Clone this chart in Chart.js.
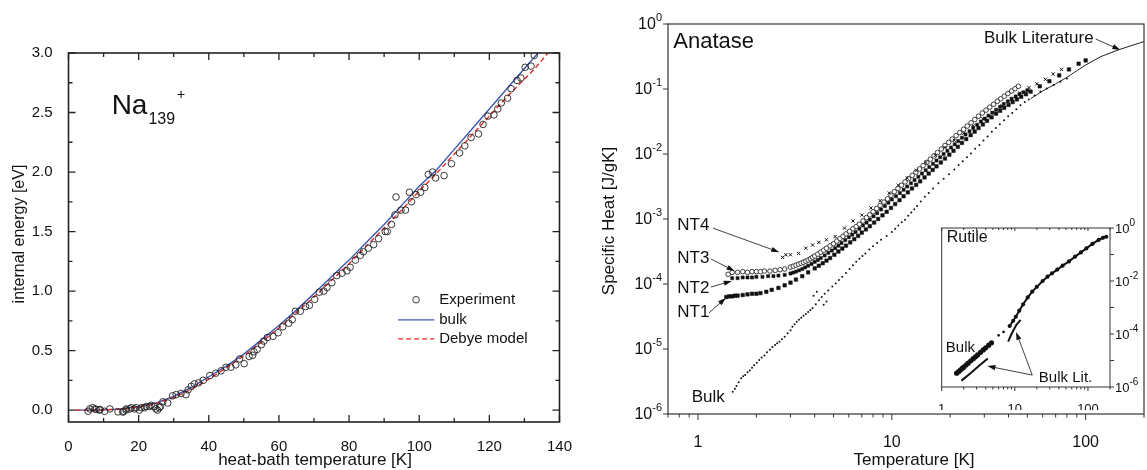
<!DOCTYPE html>
<html>
<head>
<meta charset="utf-8">
<title>Na139+ internal energy / TiO2 specific heat</title>
<script src="https://cdn.jsdelivr.net/npm/chart.js@4.4.1/dist/chart.umd.min.js"></script>
<style>
  html, body { margin: 0; padding: 0; width: 1147px; height: 470px; overflow: hidden; background: #fff; }
  canvas { position: absolute; }
  #left { left: 0; top: 0; }
  #main { left: 580px; top: 0; }
  #inset { left: 930px; top: 210px; }
</style>
</head>
<body>
<canvas id="left" width="580" height="470"></canvas>
<canvas id="main" width="575" height="470"></canvas>
<canvas id="inset" width="217" height="200"></canvas>
<script>
// ---------- left panel: Na139+ internal energy ----------
var expT = [5.6,6.1,6.9,7.5,7.9,8.8,9.0,10.3,11.8,14.1,
            15.5,15.6,16.4,16.5,17.5,17.9,18.8,19.3,20.2,20.8,
            21.6,22.2,23.1,23.6,24.5,24.9,25.4,25.9,26.2,26.9,
            28.3,29.7,30.7,32.1,33.5,34.1,35.0,35.9,37.1,38.4,
            40.3,42.0,43.5,44.9,46.3,47.7,48.8,50.1,51.5,52.5,
            52.9,53.8,55.0,55.7,56.7,58.3,59.8,61.1,62.8,63.8,
            64.7,66.1,67.6,68.7,70.2,71.5,72.8,73.7,75.1,76.5,
            78.0,79.4,80.3,81.8,83.2,84.1,85.5,87.0,88.4,90.3,
            90.9,92.1,93.1,93.4,94.8,96.1,97.2,97.8,99.1,100.4,
            101.6,102.6,103.8,104.7,107.1,109.2,111.5,113.0,114.8,116.9,
            118.2,119.6,121.3,122.4,123.4,125.2,126.2,127.9,129.0,130.2,
            131.9,132.8]
var expE = [-0.01,0.01,0.02,0.01,0.006,0.0,0.005,-0.01,0.01,-0.015,
            -0.017,-0.01,0.0,0.01,0.01,0.02,0.01,0.02,0.0,0.02,
            0.02,0.03,0.03,0.04,0.03,0.01,0.0,0.02,0.03,0.07,
            0.06,0.12,0.13,0.14,0.13,0.17,0.20,0.22,0.23,0.25,
            0.29,0.31,0.33,0.36,0.36,0.38,0.43,0.39,0.45,0.46,
            0.49,0.51,0.55,0.58,0.61,0.62,0.65,0.70,0.73,0.76,
            0.83,0.83,0.87,0.88,0.93,0.99,1.00,1.03,1.07,1.13,
            1.15,1.17,1.20,1.26,1.30,1.33,1.36,1.39,1.44,1.50,
            1.50,1.56,1.64,1.79,1.68,1.68,1.83,1.75,1.81,1.83,
            1.87,1.98,2.00,1.95,1.97,2.07,2.16,2.22,2.29,2.32,
            2.40,2.47,2.48,2.53,2.58,2.62,2.70,2.77,2.79,2.88,
            2.89,2.98]
var bulkT = [2,5,10,15,20,25,30,35,40,45,50,55,60,65,70,75,80,85,90,95,100,105,110,115,120,125,130,134.5]
var bulkE = [0,0,0.002,0.01,0.03,0.06,0.115,0.19,0.28,0.37,0.47,0.59,0.71,0.84,0.98,1.12,1.26,1.41,1.56,1.72,1.88,2.02,2.19,2.36,2.53,2.70,2.87,3.02]
var debyeT = [2,5,10,15,20,25,30,35,40,45,50,55,60,65,70,75,80,85,90,95,100,105,110,115,120,125,130,133,135,137]
var debyeE = [0,0,0.001,0.008,0.025,0.055,0.105,0.175,0.26,0.355,0.455,0.57,0.69,0.82,0.95,1.09,1.23,1.38,1.53,1.68,1.84,1.99,2.15,2.31,2.47,2.63,2.78,2.87,2.94,3.01]
var xTicksL = [0,10,20,30,40,50,60,70,80,90,100,110,120,130,140]
var yTicksL = [0,0.25,0.5,0.75,1,1.25,1.5,1.75,2,2.25,2.5,2.75,3]

// ---------- right panel: anatase specific heat ----------
var nt3T = [1.43,1.5,1.6,1.7,1.8,1.9,2.0,2.1,2.2,2.35,2.5,2.65,2.8,
            3.0,3.1,3.2,3.3,3.4,3.5,3.6,3.7,3.8,3.9,4.0,
            4.15,4.3,4.45,4.6,4.8,5.0,5.2,5.4,5.6,5.8,
            6.05,6.3,6.55,6.8,7.1,7.4,7.7,8.0,8.35,8.7,
            9.1,9.5,9.9,10.3,10.75,11.2,11.7,12.2,12.75,13.3,
            13.9,14.5,15.15,15.8,16.5,17.2,18,18.8,19.65,20.5,
            21.45,22.4,23.45,24.5,25.65,26.8,28,29.3,30.6,32,
            33.5,35,36.5,38,39.7,41.5,43.2,45]
var nt3C = [1.41e-4,1.51e-4,1.51e-4,1.55e-4,1.51e-4,1.55e-4,1.55e-4,1.55e-4,1.58e-4,1.58e-4,1.62e-4,1.66e-4,1.70e-4,
            1.82e-4,1.88e-4,1.95e-4,2.02e-4,2.09e-4,2.16e-4,2.24e-4,2.34e-4,2.45e-4,2.57e-4,2.69e-4,
            2.88e-4,3.09e-4,3.31e-4,3.55e-4,3.85e-4,4.17e-4,4.57e-4,5.01e-4,5.43e-4,5.89e-4,
            6.46e-4,7.08e-4,7.67e-4,8.32e-4,9.33e-4,1.05e-3,1.16e-3,1.29e-3,1.45e-3,1.62e-3,
            1.82e-3,2.04e-3,2.32e-3,2.63e-3,2.95e-3,3.31e-3,3.72e-3,4.17e-3,4.68e-3,5.25e-3,
            5.89e-3,6.61e-3,7.41e-3,8.32e-3,9.33e-3,1.05e-2,1.19e-2,1.35e-2,1.51e-2,1.70e-2,
            1.91e-2,2.14e-2,2.40e-2,2.69e-2,3.02e-2,3.39e-2,3.80e-2,4.27e-2,4.73e-2,5.25e-2,
            5.82e-2,6.46e-2,7.08e-2,7.76e-2,8.51e-2,9.33e-2,0.101,0.110]
var nt2T = [1.5,1.6,1.7,1.8,1.9,2.0,2.15,2.3,2.45,2.6,2.8,
            3.0,3.1,3.2,3.32,3.45,3.57,3.7,3.85,4.0,
            4.15,4.3,4.5,4.7,4.9,5.1,5.3,5.5,5.75,6.0,
            6.25,6.5,6.8,7.1,7.4,7.7,8.05,8.4,8.8,9.2,
            9.6,10,10.5,11,11.5,12,12.55,13.1,13.7,14.3,
            14.95,15.6,16.3,17,17.75,18.5,19.35,20.2,21.1,22,
            23,24,25.15,26.3,27.55,28.8,30.15,31.5,33,34.5,
            36.15,37.8,39.65,41.5,43.5,45.5,47.75,50]
var nt2C = [1.23e-4,1.23e-4,1.26e-4,1.26e-4,1.26e-4,1.29e-4,1.29e-4,1.32e-4,1.32e-4,1.35e-4,1.38e-4,
            1.45e-4,1.50e-4,1.55e-4,1.62e-4,1.70e-4,1.80e-4,1.91e-4,2.04e-4,2.19e-4,
            2.34e-4,2.51e-4,2.75e-4,3.02e-4,3.27e-4,3.55e-4,3.89e-4,4.27e-4,4.73e-4,5.25e-4,
            5.75e-4,6.31e-4,7.08e-4,7.94e-4,8.81e-4,9.77e-4,1.10e-3,1.23e-3,1.40e-3,1.58e-3,
            1.78e-3,2.00e-3,2.24e-3,2.51e-3,2.82e-3,3.16e-3,3.55e-3,3.98e-3,4.47e-3,5.01e-3,
            5.62e-3,6.31e-3,7.08e-3,7.94e-3,8.91e-3,1.00e-2,1.12e-2,1.26e-2,1.41e-2,1.58e-2,
            1.78e-2,2.00e-2,2.24e-2,2.51e-2,2.82e-2,3.16e-2,3.51e-2,3.89e-2,4.32e-2,4.79e-2,
            5.31e-2,5.89e-2,6.46e-2,7.08e-2,7.67e-2,8.32e-2,8.91e-2,9.55e-2]
var nt1T = [1.40,1.45,1.5,1.55,1.6,1.7,1.8,1.9,2.0,2.1,
            2.25,2.4,2.6,2.8,3.0,3.2,3.45,3.7,4.0,
            4.2,4.4,4.6,4.8,5.05,5.3,5.55,5.8,6.1,6.4,
            6.7,7.0,7.35,7.7,8.1,8.5,8.95,9.4,9.9,10.4,
            10.95,11.5,12.1,12.7,13.35,14,14.75,15.5,16.25,17,
            17.9,18.8,19.8,20.8,21.9,23,24.2,25.5,26.75,28,
            29.5,31,32.7,34.5,36.2,38,40,42,44.2,46.5,
            49.2,52,58,65,73,82,92,100]
var nt1C = [6.31e-5,6.46e-5,6.46e-5,6.61e-5,6.61e-5,6.76e-5,6.92e-5,7.08e-5,7.08e-5,7.24e-5,
            7.59e-5,8.13e-5,8.71e-5,9.55e-5,1.05e-4,1.17e-4,1.32e-4,1.51e-4,1.74e-4,
            1.91e-4,2.09e-4,2.29e-4,2.51e-4,2.82e-4,3.16e-4,3.51e-4,3.89e-4,4.37e-4,4.90e-4,
            5.50e-4,6.17e-4,6.92e-4,7.76e-4,8.81e-4,1.00e-3,1.14e-3,1.29e-3,1.48e-3,1.70e-3,
            1.95e-3,2.24e-3,2.57e-3,2.95e-3,3.35e-3,3.80e-3,4.37e-3,5.01e-3,5.69e-3,6.46e-3,
            7.41e-3,8.51e-3,9.77e-3,1.12e-2,1.29e-2,1.48e-2,1.70e-2,1.95e-2,2.21e-2,2.51e-2,
            2.85e-2,3.24e-2,3.67e-2,4.17e-2,4.62e-2,5.13e-2,5.69e-2,6.31e-2,6.92e-2,7.59e-2,
            8.32e-2,9.12e-2,0.110,0.132,0.162,0.200,0.245,0.275]
var nt4T = [2.73,2.84,3.0,3.3,3.6,3.9,4.2,4.6,5.1,5.7,6.3,7.0,7.8,8.7,9.7,10.8,12,13.4,15,16.8,18.8,21,23.5,26.3,29.5,33,37,41.5,46,51,56,62,68,75]
var nt4C = [2.57e-4,2.82e-4,2.82e-4,2.95e-4,3.55e-4,3.98e-4,4.37e-4,4.79e-4,5.37e-4,7.24e-4,
            9.33e-4,1.15e-3,1.48e-3,1.91e-3,2.51e-3,3.31e-3,4.27e-3,5.62e-3,7.41e-3,9.55e-3,
            1.26e-2,1.62e-2,2.09e-2,2.69e-2,3.47e-2,4.37e-2,5.50e-2,6.92e-2,8.71e-2,0.105,
            0.120,0.141,0.170,0.200]
var anaBulkT = [1.51,1.55,1.58,1.62,1.67,1.71,1.75,1.80,1.85,1.90,
                1.95,2.01,2.07,2.13,2.2,2.27,2.35,2.42,2.5,2.56,
                2.63,2.71,2.8,2.9,3.0,3.07,3.15,3.23,3.32,3.41,
                3.5,3.6,3.7,3.8,3.9,4.05,4.21,4.35,4.5,4.7,
                4.93,5.13,5.33,5.55,5.8,6.05,6.3,6.55,6.8,7.05,
                7.3,7.65,8.0,8.4,8.8,9.4,10,10.4,10.8,11.25,
                11.7,12.15,12.6,13.05,13.5,14.1,14.8,15.5,16.3,17.4,
                18.5,19.7,21,22.1,23.2,24.4,25.6,26.9,28.3,29.7,
                31.2,32.8,34.4,36.1,37.9,39.8,41.8,43.9,46.1,48.5,
                50.9,54.5,58.4,63,68.4,74,80,
                3.95,4.1,4.45,4.6]
var anaBulkC = [2.19e-6,2.45e-6,2.69e-6,3.09e-6,3.55e-6,3.80e-6,3.98e-6,4.37e-6,4.68e-6,5.13e-6,
                5.62e-6,6.17e-6,6.76e-6,7.41e-6,7.94e-6,8.91e-6,9.77e-6,1.07e-5,1.15e-5,1.23e-5,
                1.29e-5,1.41e-5,1.55e-5,1.74e-5,1.95e-5,2.19e-5,2.40e-5,2.63e-5,2.82e-5,3.02e-5,
                3.24e-5,3.47e-5,3.72e-5,3.98e-5,4.27e-5,4.90e-5,5.62e-5,6.31e-5,7.08e-5,7.94e-5,
                9.12e-5,1.02e-4,1.15e-4,1.29e-4,1.48e-4,1.70e-4,1.95e-4,2.19e-4,2.45e-4,2.69e-4,
                2.95e-4,3.39e-4,3.80e-4,4.27e-4,4.79e-4,5.50e-4,6.31e-4,7.08e-4,7.94e-4,8.91e-4,
                9.77e-4,1.12e-3,1.26e-3,1.41e-3,1.58e-3,1.86e-3,2.19e-3,2.51e-3,2.95e-3,3.55e-3,
                4.17e-3,4.90e-3,5.75e-3,6.76e-3,7.76e-3,8.91e-3,1.02e-2,1.20e-2,1.38e-2,1.62e-2,
                1.86e-2,2.19e-2,2.51e-2,2.88e-2,3.31e-2,3.80e-2,4.27e-2,4.90e-2,5.62e-2,6.31e-2,
                6.92e-2,7.94e-2,9.12e-2,0.102,0.115,0.129,0.145,
                6.61e-5,7.59e-5,4.79e-5,5.37e-5]
var anaLitT = [52,60,70,80,90,100,120,150,200]
var anaLitC = [7.08e-2,9.33e-2,0.120,0.151,0.191,0.234,0.316,0.407,0.537]
var xTicksM = [0.7,0.8,0.9,1,2,3,4,5,6,7,8,9,10,20,30,40,50,60,70,80,90,100,200]
var decades = [1e-6,1e-5,1e-4,1e-3,1e-2,1e-1,1]
var decadeExp = ['-6','-5','-4','-3','-2','-1','0']

// ---------- inset: rutile ----------
var rutLowT = [1.6,1.7,1.8,1.9,2.0,2.15,2.3,2.5,2.7,2.9,3.1,3.4,3.7,4.0,4.4,4.8]
var rutLowC = [3.31e-6,3.80e-6,4.37e-6,5.01e-6,5.62e-6,6.76e-6,7.94e-6,9.77e-6,1.17e-5,1.38e-5,1.62e-5,2.04e-5,2.51e-5,3.02e-5,3.80e-5,4.68e-5]
var rutHighT = [8.5,9.5,10.3,11.5,13,15,17.3,20,24,28,32.2,38,45,55,66.7,80,95,115,140,160,178]
var rutHighC = [2.00e-4,3.16e-4,4.47e-4,7.59e-4,1.32e-3,2.40e-3,3.98e-3,6.03e-3,1.00e-2,1.45e-2,1.95e-2,2.69e-2,3.80e-2,5.50e-2,8.32e-2,0.120,0.170,0.251,0.355,0.427,0.468]
var rutStrayT = [6.0,7.0]
var rutStrayC = [8.91e-5,1.20e-4]
var rutLit1T = [1.86,2.5,3.3,4.27]
var rutLit1C = [1.74e-6,3.39e-6,6.61e-6,1.20e-5]
var rutLit2T = [8.1,9.0,10.5,12.0]
var rutLit2C = [5.13e-5,1.00e-4,2.24e-4,3.39e-4]
var xTicksI = [1,2,3,4,5,6,7,8,9,10,20,30,40,50,60,70,80,90,100,200]

// annotations (placed in data units)
var mainLabels = [
  {text: 'Anatase', x: 0.745, y: 0.528, size: 22, align: 'left'},
  {text: 'Bulk Literature', x: 109.9, y: 0.61, size: 17, align: 'right'},
  {text: 'NT4', x: 0.781, y: 8.09e-4, size: 17, align: 'left'},
  {text: 'NT3', x: 0.781, y: 2.51e-4, size: 17, align: 'left'},
  {text: 'NT2', x: 0.781, y: 8.71e-5, size: 17, align: 'left'},
  {text: 'NT1', x: 0.781, y: 3.72e-5, size: 17, align: 'left'},
  {text: 'Bulk', x: 1.375, y: 1.82e-6, size: 17, align: 'right'}
]
var mainArrows = [
  {from: [112.5, 0.589], to: [151, 0.398]},
  {from: [1.193, 7.24e-4], to: [2.625, 3.09e-4]},
  {from: [1.165, 2.43e-4], to: [1.546, 1.58e-4]},
  {from: [1.165, 8.99e-5], to: [1.493, 1.11e-4]},
  {from: [1.138, 3.58e-5], to: [1.391, 6.10e-5]}
]
var insetLabels = [
  {text: 'Rutile', x: 1.17, y: 0.42, size: 16, align: 'left'},
  {text: 'Bulk', x: 1.14, y: 2.95e-5, size: 15, align: 'left'},
  {text: 'Bulk Lit.', x: 21.3, y: 2.19e-6, size: 15, align: 'left'}
]
var insetArrows = [
  {from: [17.3, 2.82e-6], to: [4.22, 6.17e-6]},
  {from: [17.3, 2.82e-6], to: [10.4, 1.20e-4]}
]

var FONT = '"Liberation Sans", Arial, Helvetica, sans-serif'
Chart.defaults.font.family = FONT
Chart.defaults.color = '#111'

function pts(xs, ys) { return xs.map(function (x, i) { return {x: x, y: ys[i]} }) }
function isMajorDecade(v) { return v === 1 || v === 10 || v === 100 }

// tick marks; dir = 1 points into the plot, -1 points out
function tickMarks(ctx, chart, axis, edge, values, lenOf, dir) {
  var a = chart.chartArea, s = chart.scales[axis]
  ctx.beginPath()
  values.forEach(function (v) {
    var len = lenOf(v)
    if (!len) return
    var p = s.getPixelForValue(v)
    if (edge === 'bottom') { ctx.moveTo(p, a.bottom); ctx.lineTo(p, a.bottom - dir * len) }
    if (edge === 'top') { ctx.moveTo(p, a.top); ctx.lineTo(p, a.top + dir * len) }
    if (edge === 'left') { ctx.moveTo(a.left, p); ctx.lineTo(a.left + dir * len, p) }
    if (edge === 'right') { ctx.moveTo(a.right, p); ctx.lineTo(a.right - dir * len, p) }
  })
  ctx.stroke()
}

function arrow(ctx, x1, y1, x2, y2) {
  var ang = Math.atan2(y2 - y1, x2 - x1), L = 8, W = 2.6
  ctx.beginPath(); ctx.moveTo(x1, y1); ctx.lineTo(x2 - Math.cos(ang) * L * 0.7, y2 - Math.sin(ang) * L * 0.7); ctx.stroke()
  ctx.beginPath(); ctx.moveTo(x2, y2)
  ctx.lineTo(x2 - L * Math.cos(ang) + W * Math.sin(ang), y2 - L * Math.sin(ang) - W * Math.cos(ang))
  ctx.lineTo(x2 - L * Math.cos(ang) - W * Math.sin(ang), y2 - L * Math.sin(ang) + W * Math.cos(ang))
  ctx.closePath(); ctx.fill()
}

// "10" with a raised exponent
function powLabel(ctx, x, y, exp, align, big, small) {
  ctx.font = big + 'px ' + FONT
  var wb = ctx.measureText('10').width
  ctx.font = small + 'px ' + FONT
  var we = ctx.measureText(exp).width
  var x0 = align === 'right' ? x - wb - we : x
  ctx.textAlign = 'left'; ctx.textBaseline = 'middle'
  ctx.font = big + 'px ' + FONT
  ctx.fillText('10', x0, y + 1)
  ctx.font = small + 'px ' + FONT
  ctx.fillText(exp, x0 + wb, y - big * 0.4)
}

function drawNotes(ctx, chart, labels, arrows) {
  var sx = chart.scales.x, sy = chart.scales.y
  ctx.fillStyle = '#111'; ctx.strokeStyle = '#111'; ctx.lineWidth = 0.8
  labels.forEach(function (l) {
    ctx.font = l.size + 'px ' + FONT
    ctx.textAlign = l.align; ctx.textBaseline = 'middle'
    ctx.fillText(l.text, sx.getPixelForValue(l.x), sy.getPixelForValue(l.y))
  })
  arrows.forEach(function (r) {
    arrow(ctx, sx.getPixelForValue(r.from[0]), sy.getPixelForValue(r.from[1]),
          sx.getPixelForValue(r.to[0]), sy.getPixelForValue(r.to[1]))
  })
}

// ---------- left chart ----------
var leftDeco = {
  id: 'leftDeco',
  afterDraw: function (chart) {
    var ctx = chart.ctx, a = chart.chartArea, sx = chart.scales.x, sy = chart.scales.y
    ctx.save()
    ctx.strokeStyle = '#222'; ctx.lineWidth = 1.6
    ctx.strokeRect(a.left, a.top, a.right - a.left, a.bottom - a.top)
    ctx.lineWidth = 1.3
    var xl = function (v) { return v % 20 === 0 ? 7 : 4 }
    var yl = function (v) { return (v * 2) % 1 === 0 ? 7 : 4 }
    tickMarks(ctx, chart, 'x', 'bottom', xTicksL, xl, 1)
    tickMarks(ctx, chart, 'x', 'top', xTicksL, xl, 1)
    tickMarks(ctx, chart, 'y', 'left', yTicksL, yl, 1)
    tickMarks(ctx, chart, 'y', 'right', yTicksL, yl, 1)

    // legend
    var lx0 = sx.getPixelForValue(94.0), lx1 = sx.getPixelForValue(104.3)
    var tx = sx.getPixelForValue(105.7)
    var r1 = sy.getPixelForValue(0.927), r2 = sy.getPixelForValue(0.758), r3 = sy.getPixelForValue(0.598)
    ctx.strokeStyle = '#222'; ctx.lineWidth = 0.9
    ctx.beginPath(); ctx.arc(sx.getPixelForValue(99.1), r1, 3.3, 0, Math.PI * 2); ctx.stroke()
    ctx.strokeStyle = 'rgb(60,88,176)'; ctx.lineWidth = 1.4
    ctx.beginPath(); ctx.moveTo(lx0, r2); ctx.lineTo(lx1, r2); ctx.stroke()
    ctx.strokeStyle = 'rgb(232,40,36)'; ctx.setLineDash([5, 3])
    ctx.beginPath(); ctx.moveTo(lx0, r3); ctx.lineTo(lx1, r3); ctx.stroke()
    ctx.setLineDash([])
    ctx.fillStyle = '#111'; ctx.font = '15px ' + FONT; ctx.textAlign = 'left'; ctx.textBaseline = 'middle'
    ctx.fillText('Experiment', tx, r1)
    ctx.fillText('bulk', tx, r2)
    ctx.fillText('Debye model', tx, r3)

    // Na139+
    var nx = sx.getPixelForValue(12.3), ny = sy.getPixelForValue(2.485)
    ctx.textBaseline = 'alphabetic'
    ctx.font = '28px ' + FONT; ctx.fillText('Na', nx, ny)
    var wNa = ctx.measureText('Na').width
    ctx.font = '16px ' + FONT; ctx.fillText('139', nx + wNa + 1, ny + 10)
    var w139 = ctx.measureText('139').width
    ctx.font = '14px ' + FONT; ctx.fillText('+', nx + wNa + w139 + 3, ny - 15)

    // axis titles
    ctx.font = '17px ' + FONT; ctx.textAlign = 'center'; ctx.textBaseline = 'middle'
    ctx.fillText('heat-bath temperature [K]', 315, 460)
    ctx.font = '16px ' + FONT
    ctx.translate(20, 234); ctx.rotate(-Math.PI / 2)
    ctx.fillText('internal energy [eV]', 0, 0)
    ctx.restore()
  }
}

new Chart(document.getElementById('left'), {
  type: 'scatter',
  data: {
    datasets: [
      {label: 'Experiment', data: pts(expT, expE), pointStyle: 'circle', pointRadius: 3.3,
       borderColor: '#222', borderWidth: 0.9, backgroundColor: 'rgba(0,0,0,0)'},
      {label: 'Debye model', data: pts(debyeT, debyeE), showLine: true, pointRadius: 0,
       borderColor: 'rgb(232,40,36)', borderWidth: 1.4, borderDash: [5, 3]},
      {label: 'bulk', data: pts(bulkT, bulkE), showLine: true, pointRadius: 0,
       borderColor: 'rgb(60,88,176)', borderWidth: 1.4}
    ]
  },
  options: {
    responsive: false, animation: false, events: [],
    layout: {padding: {top: 53, right: 18, left: 0, bottom: 0}, autoPadding: false},
    plugins: {legend: {display: false}, tooltip: {enabled: false}},
    scales: {
      x: {type: 'linear', min: 0, max: 140,
          afterBuildTicks: function (s) { s.ticks = xTicksL.map(function (v) { return {value: v} }) },
          afterFit: function (s) { s.height = 48 },
          grid: {display: false}, border: {display: false},
          ticks: {padding: 8, autoSkip: false, maxRotation: 0, font: {size: 15}, color: '#111',
                  callback: function (v) { return v % 20 === 0 ? String(v) : '' }}},
      y: {type: 'linear', min: -0.1, max: 3.0,
          afterBuildTicks: function (s) { s.ticks = yTicksL.map(function (v) { return {value: v} }) },
          afterFit: function (s) { s.width = 68.5 },
          grid: {display: false}, border: {display: false},
          ticks: {padding: 8, autoSkip: false, font: {size: 15}, color: '#111',
                  callback: function (v) { return (v * 2) % 1 === 0 ? v.toFixed(1) : '' }}}
    }
  },
  plugins: [leftDeco]
})

// ---------- main right chart ----------
var mainDeco = {
  id: 'mainDeco',
  afterDraw: function (chart) {
    var ctx = chart.ctx, a = chart.chartArea, sy = chart.scales.y
    ctx.save()
    ctx.strokeStyle = '#333'; ctx.lineWidth = 1.2
    ctx.strokeRect(a.left, a.top, a.right - a.left, a.bottom - a.top)
    ctx.lineWidth = 1
    tickMarks(ctx, chart, 'x', 'bottom', xTicksM, function (v) { return isMajorDecade(v) ? 6 : 3.5 }, -1)
    tickMarks(ctx, chart, 'y', 'left', decades, function () { return 5 }, -1)
    ctx.fillStyle = '#111'
    decades.forEach(function (v, i) {
      powLabel(ctx, a.left - 6, sy.getPixelForValue(v), decadeExp[i], 'right', 16, 11)
    })
    drawNotes(ctx, chart, mainLabels, mainArrows)
    ctx.fillStyle = '#111'
    ctx.font = '17px ' + FONT; ctx.textAlign = 'center'; ctx.textBaseline = 'middle'
    ctx.fillText('Temperature [K]', 334, 460)
    ctx.translate(29, 221); ctx.rotate(-Math.PI / 2)
    ctx.fillText('Specific Heat [J/gK]', 0, 0)
    ctx.restore()
  }
}

new Chart(document.getElementById('main'), {
  type: 'scatter',
  data: {
    datasets: [
      {label: 'NT4', data: pts(nt4T, nt4C), pointStyle: 'crossRot', pointRadius: 2.3,
       borderColor: '#111', borderWidth: 1, backgroundColor: '#111'},
      {label: 'NT3', data: pts(nt3T, nt3C), pointStyle: 'circle', pointRadius: 2.3,
       borderColor: '#111', borderWidth: 0.8, backgroundColor: '#fff'},
      {label: 'NT2', data: pts(nt2T, nt2C), pointStyle: 'rect', pointRadius: 2.2,
       borderColor: '#111', borderWidth: 0.5, backgroundColor: '#111'},
      {label: 'NT1', data: pts(nt1T, nt1C), pointStyle: 'rect', pointRadius: 2.5,
       borderColor: '#111', borderWidth: 0.5, backgroundColor: '#111'},
      {label: 'Bulk', data: pts(anaBulkT, anaBulkC), pointStyle: 'circle', pointRadius: 1,
       borderWidth: 0, backgroundColor: '#111'},
      {label: 'Bulk Literature', data: pts(anaLitT, anaLitC), showLine: true, pointRadius: 0,
       borderColor: '#222', borderWidth: 1}
    ]
  },
  options: {
    responsive: false, animation: false, events: [],
    layout: {padding: {top: 24, right: 7, left: 0, bottom: 0}, autoPadding: false},
    plugins: {legend: {display: false}, tooltip: {enabled: false}},
    scales: {
      x: {type: 'logarithmic', min: 0.7, max: 200,
          afterBuildTicks: function (s) { s.ticks = xTicksM.map(function (v) { return {value: v} }) },
          afterFit: function (s) { s.height = 56 },
          grid: {display: false}, border: {display: false},
          ticks: {padding: 11, autoSkip: false, maxRotation: 0, font: {size: 16}, color: '#111',
                  callback: function (v) { return isMajorDecade(v) ? String(v) : '' }}},
      y: {type: 'logarithmic', min: 1e-6, max: 1,
          afterBuildTicks: function (s) { s.ticks = decades.map(function (v) { return {value: v} }) },
          afterFit: function (s) { s.width = 88 },
          grid: {display: false}, border: {display: false},
          ticks: {display: false}}
    }
  },
  plugins: [mainDeco]
})

// ---------- inset chart ----------
var insetDeco = {
  id: 'insetDeco',
  beforeDraw: function (chart) {
    var ctx = chart.ctx, a = chart.chartArea
    ctx.save(); ctx.fillStyle = '#fff'
    ctx.fillRect(a.left, a.top, a.right - a.left, a.bottom - a.top)
    ctx.restore()
  },
  afterDraw: function (chart) {
    var ctx = chart.ctx, a = chart.chartArea, sy = chart.scales.y
    ctx.save()
    ctx.strokeStyle = '#333'; ctx.lineWidth = 1
    ctx.strokeRect(a.left, a.top, a.right - a.left, a.bottom - a.top)
    tickMarks(ctx, chart, 'x', 'bottom', xTicksI, function (v) { return isMajorDecade(v) ? 4 : 2.5 }, -1)
    tickMarks(ctx, chart, 'x', 'top', xTicksI, function (v) { return isMajorDecade(v) ? 3 : 2 }, 1)
    tickMarks(ctx, chart, 'y', 'right', decades, function () { return 4 }, -1)
    ctx.fillStyle = '#111'
    decades.forEach(function (v, i) {
      if (i % 2 === 0) powLabel(ctx, a.right + 5, sy.getPixelForValue(v), decadeExp[i], 'left', 13, 10)
    })
    drawNotes(ctx, chart, insetLabels, insetArrows)
    ctx.restore()
  }
}

new Chart(document.getElementById('inset'), {
  type: 'scatter',
  data: {
    datasets: [
      {label: 'Rutile bulk', data: pts(rutLowT, rutLowC), showLine: true, pointStyle: 'circle', pointRadius: 1.4,
       borderColor: '#111', backgroundColor: '#111', borderWidth: 2.4},
      {label: 'Rutile bulk high', data: pts(rutHighT, rutHighC), showLine: true, pointStyle: 'circle', pointRadius: 1.1,
       borderColor: '#111', backgroundColor: '#111', borderWidth: 2},
      {label: 'Rutile stray', data: pts(rutStrayT, rutStrayC), pointStyle: 'circle', pointRadius: 1.3,
       borderWidth: 0, backgroundColor: '#111'},
      {label: 'Bulk Lit. low', data: pts(rutLit1T, rutLit1C), showLine: true, pointRadius: 0,
       borderColor: '#111', borderWidth: 2},
      {label: 'Bulk Lit. high', data: pts(rutLit2T, rutLit2C), showLine: true, pointRadius: 0,
       borderColor: '#111', borderWidth: 2}
    ]
  },
  options: {
    responsive: false, animation: false, events: [],
    layout: {padding: {top: 18, right: 0, left: 11.7, bottom: 0}, autoPadding: false},
    plugins: {legend: {display: false}, tooltip: {enabled: false}},
    scales: {
      x: {type: 'logarithmic', min: 1, max: 200,
          afterBuildTicks: function (s) { s.ticks = xTicksI.map(function (v) { return {value: v} }) },
          afterFit: function (s) { s.height = 23 },
          grid: {display: false}, border: {display: false},
          ticks: {padding: 7, autoSkip: false, maxRotation: 0, font: {size: 13}, color: '#111',
                  callback: function (v) { return isMajorDecade(v) ? String(v) : '' }}},
      y: {type: 'logarithmic', position: 'right', min: 1e-6, max: 1,
          afterBuildTicks: function (s) { s.ticks = decades.map(function (v) { return {value: v} }) },
          afterFit: function (s) { s.width = 37 },
          grid: {display: false}, border: {display: false},
          ticks: {display: false}}
    }
  },
  plugins: [insetDeco]
})
</script>
</body>
</html>
